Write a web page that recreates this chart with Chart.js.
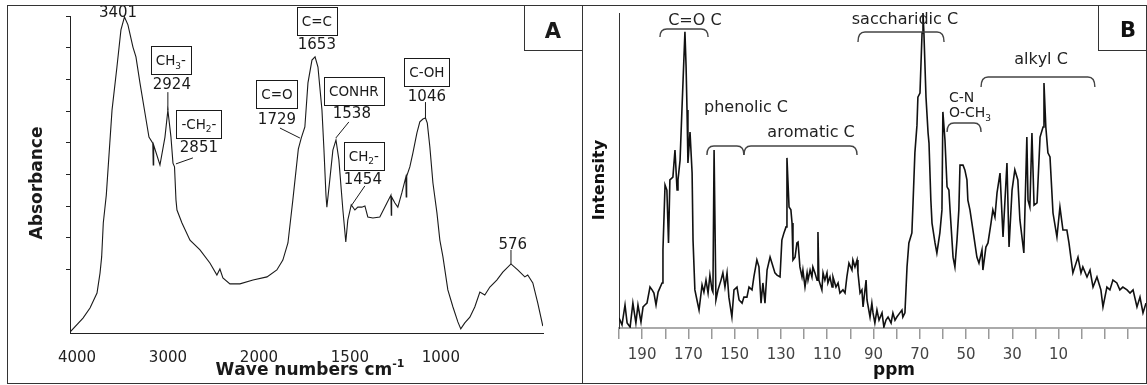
<!DOCTYPE html>
<html>
<head>
<meta charset="utf-8">
<title>FTIR and 13C NMR spectra</title>
<script src="https://cdn.jsdelivr.net/npm/chart.js@4.4.0/dist/chart.umd.min.js"></script>
<style>
  body { margin: 0; background: #fff; }
  #wrap { position: relative; width: 1147px; height: 385px; overflow: hidden; }
  canvas { position: absolute; top: 0; }
  #chartA { left: 0; }
  #chartB { left: 582px; }
  .frame { position: absolute; border: 1px solid #333; box-sizing: border-box; pointer-events: none; }
</style>
</head>
<body>
<div id="wrap">
  <canvas id="chartA" width="582" height="385"></canvas>
  <canvas id="chartB" width="565" height="385"></canvas>
  <div class="frame" style="left:7px;top:5px;width:576px;height:379px"></div>
  <div class="frame" style="left:582px;top:5px;width:565px;height:379px"></div>
</div>
<script>
// ---- Panel A: FTIR spectrum (wavenumber cm-1 vs absorbance, arbitrary units) ----
const waveA = [4000, 3857, 3780, 3703, 3670, 3652, 3634, 3601, 3538, 3484, 3440, 3401, 3363, 3308, 3275, 3231,
  3176, 3132, 3090, 3085, 3080, 3011, 2956, 2924, 2890, 2868, 2851, 2835, 2824, 2769, 2681, 2571, 2462, 2385,
  2352, 2319, 2242, 2132, 1994, 1917, 1863, 1830, 1802, 1775, 1745, 1729, 1709, 1692, 1670, 1653, 1637, 1615,
  1604, 1593, 1588, 1572, 1555, 1538, 1522, 1500, 1484, 1473, 1454, 1434, 1418, 1396, 1379, 1363, 1335, 1297,
  1258, 1236, 1234, 1232, 1214, 1198, 1176, 1154, 1152, 1149, 1132, 1115, 1093, 1077, 1060, 1046, 1036, 1022,
  1005, 983, 967, 950, 923, 895, 868, 852, 830, 802, 775, 747, 720, 692, 654, 621, 576, 539, 500, 484, 456, 429, 401];
const absA = [0.3, 4.7, 7.9, 12.6, 18.9, 24.0, 34.7, 43.5, 70.3, 83.9, 95.6, 99.7, 97.2, 90.2, 87.1, 78.9,
  69.4, 61.8, 59.9, 53.0, 59.3, 53.0, 61.8, 70.3, 61.8, 53.6, 52.4, 42.0, 38.8, 34.7, 29.3, 26.2, 22.1, 18.3,
  20.2, 17.4, 15.5, 15.5, 16.7, 17.7, 19.9, 23.0, 28.4, 42.0, 58.0, 61.5, 65.0, 78.9, 86.1, 87.1, 83.9, 70.3,
  57.7, 43.5, 39.7, 48.3, 57.7, 60.9, 54.6, 38.8, 28.7, 35.6, 40.4, 38.8, 39.7, 39.7, 40.1, 36.6, 36.3, 36.6,
  41.0, 43.5, 37.2, 42.9, 41.0, 39.7, 44.2, 49.2, 42.9, 49.5, 52.4, 56.8, 63.1, 66.6, 67.5, 67.8, 66.2, 58.7,
  47.3, 37.9, 29.3, 24.0, 13.6, 8.2, 3.5, 1.3, 3.2, 5.0, 8.2, 12.9, 12.0, 14.5, 16.7, 19.2, 21.8, 19.9, 17.7, 18.3, 15.8, 9.5, 2.2];
const tickLabelsA = [4000, 3000, 2000, 1500, 1000];
const tickMarksA = [20, 30, 40, 50, 60, 70, 80, 90, 100];
const peaksA = [3401, 2924, 2851, 1729, 1653, 1538, 1454, 1046, 576];
const groupsA = ['', 'CH_3-', '-CH_2-', 'C=O', 'C=C', 'CONHR', 'CH_2-', 'C-OH', ''];

// ---- Panel B: 13C NMR spectrum (ppm vs intensity, arbitrary units) ----
const ppmB = [200.0, 198.7, 197.4, 196.5, 195.2, 194.0, 192.7, 191.8, 190.5, 189.6, 188.8, 187.9, 186.6, 185.7,
  184.9, 184.0, 183.1, 181.4, 181.0, 180.1, 179.3, 178.6, 178.0, 176.7, 175.8, 174.9, 174.5, 173.6, 172.8, 172.3,
  171.5, 171.0, 170.6, 170.2, 169.3, 168.4, 168.0, 167.2, 166.3, 165.4, 164.1, 163.3, 162.4, 161.5, 160.7, 159.8,
  159.4, 158.9, 158.1, 157.2, 155.9, 155.1, 154.2, 153.3, 152.5, 151.2, 150.3, 149.0, 148.1, 146.8, 146.0, 144.7,
  143.8, 142.5, 141.7, 140.4, 139.5, 138.6, 137.8, 136.9, 136.0, 134.7, 133.9, 132.6, 131.7, 130.4, 129.6, 128.7,
  127.8, 127.4, 126.5, 125.7, 125.2, 124.8, 123.9, 123.1, 122.6, 121.8, 120.9, 120.5, 119.6, 118.7, 118.3, 117.4,
  116.6, 116.2, 115.3, 114.4, 114.0, 113.6, 112.3, 111.8, 111.0, 110.1, 109.7, 108.8, 107.9, 107.5, 106.2, 105.3,
  104.5, 103.2, 102.3, 101.5, 100.6, 99.3, 98.9, 98.0, 97.1, 96.7, 95.8, 95.0, 94.5, 93.2, 92.8, 91.5, 90.7, 90.2,
  89.4, 88.5, 87.6, 86.3, 85.5, 84.6, 83.7, 82.4, 81.6, 80.7, 79.9, 78.6, 77.7, 77.3, 76.4, 75.5, 74.7, 73.4,
  72.9, 72.1, 71.2, 70.8, 69.9, 69.0, 68.6, 68.2, 67.3, 66.4, 66.0, 65.2, 64.7, 63.4, 62.6, 61.3, 60.4, 60.0,
  59.1, 58.2, 57.4, 56.9, 55.6, 54.8, 53.9, 53.1, 52.6, 51.3, 50.5, 49.6, 49.2, 48.3, 47.0, 45.3, 44.4, 43.1,
  42.7, 41.4, 40.5, 39.2, 38.4, 37.5, 36.6, 35.3, 34.0, 32.3, 31.4, 30.1, 28.9, 27.6, 26.7, 25.0, 23.7, 23.2,
  22.4, 21.5, 20.6, 19.3, 18.0, 16.7, 16.3, 15.5, 14.6, 13.7, 12.4, 10.7, 9.4, 8.1, 6.4, 5.5, 3.8, 1.6, 0.3,
  -0.5, -2.3, -3.6, -4.9, -6.6, -8.3, -9.2, -10.9, -12.2, -13.5, -15.2, -16.5, -17.8, -19.6, -20.9, -22.2,
  -23.9, -25.2, -26.5, -27.8];
const intB = [3.2, 1.0, 7.3, 1.6, 0.3, 7.9, 1.6, 7.3, 1.9, 6.7, 7.3, 7.9, 13.0, 12.1,
  11.1, 7.3, 11.4, 14.3, 24.8, 45.4, 43.8, 27.0, 47.0, 47.9, 56.5, 43.8, 47.0, 53.3, 69.2, 78.7,
  94.0, 82.9, 69.2, 52.4, 62.2, 49.2, 27.9, 12.1, 8.9, 5.7, 13.7, 11.4, 15.2, 11.1, 16.8, 12.1,
  11.4, 56.5, 8.9, 12.1, 15.2, 17.5, 13.0, 17.5, 9.8, 3.5, 12.1, 13.0, 8.9, 7.9, 9.8, 9.8,
  13.0, 12.1, 16.2, 21.6, 19.4, 7.9, 14.3, 7.9, 18.4, 22.5, 20.6, 17.5, 16.8, 16.2, 27.9, 30.2,
  32.1, 54.0, 38.4, 37.5, 33.3, 21.6, 22.5, 27.0, 27.3, 19.4, 16.2, 18.4, 13.0, 17.5, 15.2, 18.4,
  16.2, 19.4, 17.5, 15.2, 30.5, 15.2, 12.1, 17.5, 15.2, 17.5, 14.3, 16.2, 13.0, 16.2, 13.0, 14.3,
  11.1, 12.1, 11.1, 16.2, 20.6, 18.4, 21.6, 19.4, 21.6, 17.5, 11.1, 12.1, 6.7, 15.2, 8.9, 3.5, 7.9, 4.8,
  1.6, 5.7, 2.5, 4.8, 0.3, 2.5, 3.5, 1.6, 4.8, 2.5, 3.5, 4.8, 5.7, 3.5, 4.8, 19.4, 27.0, 30.2,
  39.7, 55.6, 64.4, 73.3, 74.6, 93.7, 100, 93.7, 73.3, 61.9, 58.7, 40.6, 33.3, 27.0, 23.8, 30.2, 37.5, 68.6,
  59.7, 44.8, 43.8, 37.5, 22.5, 19.4, 27.9, 37.5, 51.7, 51.7, 50.2, 47.0, 40.6, 37.5, 31.1, 22.5, 20.6, 24.8,
  18.4, 25.7, 27.0, 33.3, 37.5, 35.2, 42.9, 49.2, 28.9, 52.4, 25.7, 43.8, 50.2, 47.0, 34.3, 23.8, 60.6, 40.6,
  38.4, 61.9, 39.0, 39.7, 60.6, 63.8, 77.8, 63.8, 55.6, 54.3, 36.5, 28.9, 38.4, 31.1, 31.1, 27.0, 17.5, 22.5, 17.5,
  19.4, 16.2, 18.4, 13.0, 16.2, 12.1, 6.7, 13.0, 12.1, 15.2, 14.3, 12.1, 13.0, 12.1, 11.1, 12.1,
  6.7, 9.8, 4.8, 7.9];
const ticksB = [200, 190, 180, 170, 160, 150, 140, 130, 120, 110, 100, 90, 80, 70, 60, 50, 40, 30, 20, 10, 0, -10, -20];
const tickLabelsB = [190, 170, 150, 130, 110, 90, 70, 50, 30, 10];
const regionsB = ['C=O C', 'phenolic C', 'aromatic C', 'saccharidic C', 'C-N|O-CH_3', 'alkyl C'];
const regionFromB = [182.3, 162.0, 146.0, 96.7, 58.2, 43.5];
const regionToB = [161.5, 146.0, 97.1, 59.5, 43.5, -5.7];

// layout of the annotations (pixel offsets from the peak, or pixel rows)
const noteLayoutA = [
  { num: [-6.5, -5] },
  { box: [3, -50], num: [4, -27], lead: [0, -18, 0, 0] },
  { box: [24.4, -43], num: [24.4, -20], lead: [18.4, -9, 1.4, -3] },
  { box: [-24.3, -44], num: [-24.3, -20], lead: [-21.3, -10, -1.3, 0] },
  { box: [1.8, -36], num: [1.8, -13] },
  { box: [17.9, -49], num: [15.9, -27], lead: [12.9, -18, -0.1, -2] },
  { box: [12.6, -49], num: [11.6, -26], lead: [13.6, -19, 0.6, 0] },
  { box: [1.4, -46], num: [1.4, -23], lead: [0, -16, 0, 0] },
  { num: [1.8, -20], lead: [0, -14, 0, 0] }
];
const regionLayoutB = [
  { lx: 167.2, base: [25], top: 29, end: 37 },
  { lx: 145.1, base: [112], top: 146, end: 155 },
  { lx: 117.0, base: [137], top: 146, end: 155 },
  { lx: 76.4, base: [23.5], top: 32, end: 42 },
  { lx: 57.4, base: [102, 117], top: 123, end: 132, left: true, size: 14 },
  { lx: 17.6, base: [64], top: 77, end: 87 }
];

Chart.defaults.font.family = '"DejaVu Sans", Verdana, sans-serif';

// FTIR axis: scale doubles below 2000 cm-1
const toU = w => (w >= 2000 ? 4000 - w : 2000 + 2 * (2000 - w));
const fromU = u => (u <= 2000 ? 4000 - u : 2000 - (u - 2000) / 2);

const nearestIndex = (arr, v) => {
  let best = 0;
  arr.forEach((a, i) => { if (Math.abs(a - v) < Math.abs(arr[best] - v)) best = i; });
  return best;
};

// '_' = next char subscript, '^' = next char superscript
function drawRich(ctx, str, x, baseline, size, align, bold) {
  const parts = [];
  for (let i = 0; i < str.length; i++) {
    const c = str[i];
    if (c === '_' || c === '^') { parts.push({ t: str[i + 1], k: c }); i++; }
    else parts.push({ t: c, k: '' });
  }
  const font = k => `${bold ? 'bold ' : ''}${k ? Math.round(size * 0.65) : size}px "DejaVu Sans"`;
  let w = 0;
  parts.forEach(p => { ctx.font = font(p.k); p.w = ctx.measureText(p.t).width; w += p.w; });
  let cx = align === 'center' ? x - w / 2 : x;
  ctx.textAlign = 'left';
  ctx.textBaseline = 'alphabetic';
  parts.forEach(p => {
    ctx.font = font(p.k);
    const dy = p.k === '_' ? size * 0.25 : p.k === '^' ? -size * 0.45 : 0;
    ctx.fillText(p.t, cx, baseline + dy);
    cx += p.w;
  });
  return w;
}

const notesA = {
  id: 'notesA',
  afterDraw(chart) {
    const ctx = chart.ctx, xs = chart.scales.x, ys = chart.scales.y;
    ctx.save();
    ctx.fillStyle = '#1a1a1a';
    ctx.strokeStyle = '#1a1a1a';
    ctx.lineWidth = 1;
    peaksA.forEach((w, i) => {
      const j = nearestIndex(waveA, w);
      const ax = xs.getPixelForValue(toU(w)), ay = ys.getPixelForValue(absA[j]);
      const L = noteLayoutA[i];
      drawRich(ctx, String(w), ax + L.num[0], ay + L.num[1] + 5.5, 15, 'center');
      if (groupsA[i]) {
        const cx = ax + L.box[0], cy = ay + L.box[1];
        const tw = drawRich(ctx, groupsA[i], cx, cy + 5, 13.5, 'center');
        const bw = Math.round(tw + 10), bh = 28;
        ctx.strokeRect(Math.round(cx - bw / 2) + 0.5, Math.round(cy - bh / 2) + 0.5, bw, bh);
      }
      if (L.lead) {
        ctx.beginPath();
        ctx.moveTo(ax + L.lead[0], ay + L.lead[1]);
        ctx.lineTo(ax + L.lead[2], ay + L.lead[3]);
        ctx.stroke();
      }
    });
    // axis titles
    ctx.save();
    ctx.translate(42, 183);
    ctx.rotate(-Math.PI / 2);
    ctx.font = 'bold 17px "DejaVu Sans"';
    ctx.textAlign = 'center';
    ctx.textBaseline = 'alphabetic';
    ctx.fillText('Absorbance', 0, 0);
    ctx.restore();
    drawRich(ctx, 'Wave numbers cm^-^1', 310, 375, 17, 'center', true);
    // panel letter
    ctx.strokeStyle = '#333';
    ctx.strokeRect(524.5, 5.5, 58, 45);
    ctx.font = 'bold 21px "DejaVu Sans"';
    ctx.textAlign = 'center';
    ctx.fillText('A', 553, 38);
    ctx.restore();
  }
};

const notesB = {
  id: 'notesB',
  afterDraw(chart) {
    const ctx = chart.ctx, xs = chart.scales.x;
    ctx.save();
    ctx.fillStyle = '#222';
    ctx.strokeStyle = '#444';
    ctx.lineWidth = 1.4;
    regionsB.forEach((name, i) => {
      const L = regionLayoutB[i];
      const x1 = xs.getPixelForValue(regionFromB[i]), x2 = xs.getPixelForValue(regionToB[i]);
      const r = Math.min(7, (x2 - x1) / 3);
      ctx.beginPath();
      ctx.moveTo(x1, L.end);
      ctx.quadraticCurveTo(x1, L.top, x1 + r, L.top);
      ctx.lineTo(x2 - r, L.top);
      ctx.quadraticCurveTo(x2, L.top, x2, L.end);
      ctx.stroke();
      const lx = xs.getPixelForValue(L.lx);
      name.split('|').forEach((line, k) => {
        drawRich(ctx, line, lx, L.base[k], L.size || 16, L.left ? 'left' : 'center');
      });
    });
    ctx.fillStyle = '#111';
    ctx.save();
    ctx.translate(22, 180);
    ctx.rotate(-Math.PI / 2);
    ctx.font = 'bold 16px "DejaVu Sans"';
    ctx.textAlign = 'center';
    ctx.textBaseline = 'alphabetic';
    ctx.fillText('Intensity', 0, 0);
    ctx.restore();
    ctx.font = 'bold 17px "DejaVu Sans"';
    ctx.textAlign = 'center';
    ctx.textBaseline = 'alphabetic';
    ctx.fillText('ppm', 312, 375);
    ctx.strokeStyle = '#333';
    ctx.lineWidth = 1;
    ctx.strokeRect(516.5, 5.5, 48, 45);
    ctx.font = 'bold 21px "DejaVu Sans"';
    ctx.fillText('B', 546, 37);
    ctx.restore();
  }
};

new Chart(document.getElementById('chartA'), {
  type: 'line',
  data: {
    datasets: [{
      data: waveA.map((w, i) => ({ x: toU(w), y: absA[i] })),
      borderColor: '#1a1a1a', borderWidth: 1.1, pointRadius: 0, tension: 0, fill: false
    }]
  },
  options: {
    responsive: false, animation: false, events: [],
    layout: { padding: { left: 50, right: 39, top: 16, bottom: 2 } },
    plugins: { legend: { display: false }, tooltip: { enabled: false } },
    scales: {
      x: {
        type: 'linear', min: 0, max: 5200,
        afterBuildTicks: s => { s.ticks = tickLabelsA.map(w => ({ value: toU(w) })); },
        afterFit: s => { s.height = 50; },
        grid: { display: false },
        border: { display: true, color: '#222', width: 1 },
        ticks: {
          autoSkip: false, maxRotation: 0, padding: 8, labelOffset: 7, color: '#222',
          font: { size: 15 }, callback: v => String(fromU(v))
        }
      },
      y: {
        min: 0, max: 100,
        afterBuildTicks: s => { s.ticks = tickMarksA.map(v => ({ value: v })); },
        afterFit: s => { s.width = 20; },
        grid: { drawOnChartArea: false, drawTicks: true, tickLength: 4, color: '#222' },
        border: { color: '#222', width: 1 },
        ticks: { display: false }
      }
    }
  },
  plugins: [notesA]
});

new Chart(document.getElementById('chartB'), {
  type: 'line',
  data: {
    datasets: [{
      data: ppmB.map((p, i) => ({ x: p, y: intB[i] })),
      borderColor: '#111', borderWidth: 1.6, pointRadius: 0, tension: 0, fill: false
    }]
  },
  options: {
    responsive: false, animation: false, events: [],
    layout: { padding: { left: 36, right: 1, top: 13, bottom: 7 } },
    plugins: { legend: { display: false }, tooltip: { enabled: false } },
    scales: {
      x: {
        type: 'linear', reverse: true, min: -27.8, max: 200,
        afterBuildTicks: s => { s.ticks = ticksB.map(v => ({ value: v })); },
        afterFit: s => { s.height = 50; },
        grid: { drawOnChartArea: false, drawTicks: true, tickLength: 11, color: '#999', lineWidth: 1.5 },
        border: { color: '#aaa', width: 2 },
        ticks: {
          autoSkip: false, maxRotation: 0, padding: 7, color: '#444',
          font: { size: 15 }, callback: v => (tickLabelsB.includes(v) ? String(v) : '')
        }
      },
      y: {
        min: 0, max: 100,
        afterFit: s => { s.width = 1; },
        grid: { display: false },
        border: { color: '#333', width: 1 },
        ticks: { display: false }
      }
    }
  },
  plugins: [notesB]
});
</script>
</body>
</html>
